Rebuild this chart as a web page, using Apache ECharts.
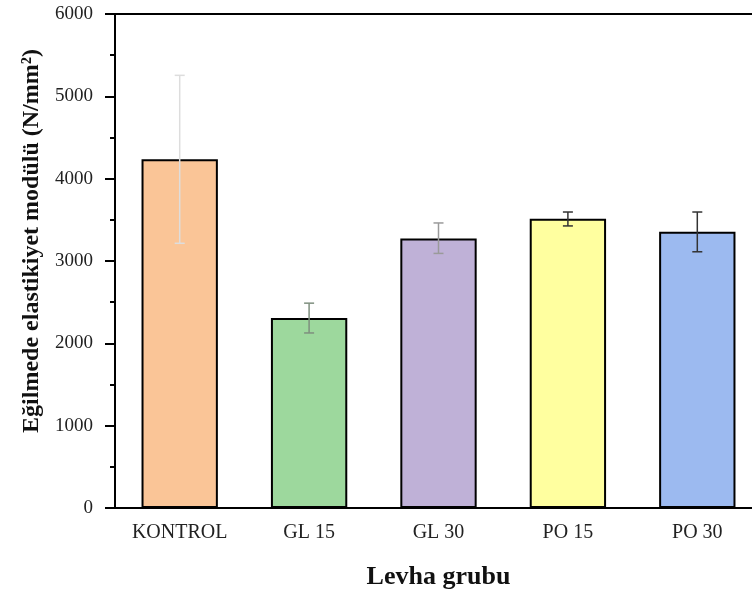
<!DOCTYPE html>
<html>
<head>
<meta charset="utf-8">
<script src="https://cdn.jsdelivr.net/npm/echarts@6/dist/echarts.min.js"></script>
<style>
  html, body { margin: 0; padding: 0; background: #fff; overflow: hidden; }
  #mycharts { width: 764px; height: 595px; }
</style>
</head>
<body>
<div id="mycharts"></div>
<script>
// veriler
var categories = ["KONTROL", "GL 15", "GL 30", "PO 15", "PO 30"];
var modulus = [4235, 2307, 3273, 3514, 3354];
var errLow = [3215, 2126, 3092, 3426, 3112];
var errHigh = [5255, 2488, 3462, 3595, 3595];
var barColors = ["#FAC597", "#9DD89D", "#BFB1D7", "#FFFF9F", "#9CBAF0"];
var errColors = ["#DDDDDD", "#7F8F7F", "#9A9A9A", "#333333", "#333333"];
var yTicks = [0, 1000, 2000, 3000, 4000, 5000, 6000];

var font = "Liberation Serif, Times New Roman, serif";
var myCharts = echarts.init(document.getElementById("mycharts"));

var errData = categories.map(function (c, i) {
  return [i, errLow[i], errHigh[i]];
});

var option = {
  animation: false,
  grid: {
    left: 115,
    top: 14,
    bottom: 84,
    right: 2,
    show: true,
    borderColor: "#000",
    borderWidth: 2
  },
  xAxis: [
    {
      type: "category",
      data: categories,
      name: "Levha grubu",
      nameLocation: "middle",
      nameGap: 56,
      nameTextStyle: { fontFamily: font, fontWeight: "bold", fontSize: 26, color: "#111" },
      axisLine: { lineStyle: { color: "#000", width: 2 } },
      axisTick: { alignWithLabel: true, length: 6, lineStyle: { color: "#000", width: 2 } },
      axisLabel: { fontFamily: font, fontSize: 20, color: "#222", margin: 15 }
    },
    {
      type: "category",
      data: categories,
      position: "bottom",
      axisLine: { show: false },
      axisTick: { length: 4, lineStyle: { color: "#000", width: 2 } },
      axisLabel: { show: false }
    }
  ],
  yAxis: {
    type: "value",
    min: 0,
    max: yTicks[yTicks.length - 1],
    interval: 1000,
    name: "Eğilmede elastikiyet modülü (N/mm²)",
    nameLocation: "middle",
    nameGap: 68,
    nameTextStyle: {
      fontFamily: font, fontWeight: "bold", fontSize: 24, color: "#111",
      padding: [0, 0, 0, 40]
    },
    splitLine: { show: false },
    axisLine: { show: true, lineStyle: { color: "#000", width: 2 } },
    axisTick: { show: true, length: 10, lineStyle: { color: "#000", width: 2 } },
    minorTick: { show: true, splitNumber: 2, length: 5, lineStyle: { color: "#000", width: 2 } },
    axisLabel: {
      fontFamily: font, fontSize: 19, color: "#222", margin: 22,
      formatter: function (v) { return String(v); }
    }
  },
  series: [
    {
      name: "modul",
      type: "bar",
      barWidth: "59%",
      data: modulus.map(function (v, i) {
        return { value: v, itemStyle: { color: barColors[i] } };
      }),
      itemStyle: { borderColor: "#000", borderWidth: 2 },
      z: 2
    },
    {
      name: "hata",
      type: "custom",
      data: errData,
      z: 3,
      renderItem: function (params, api) {
        var i = api.value(0);
        var lo = api.coord([i, api.value(1)]);
        var hi = api.coord([i, api.value(2)]);
        var w = 5;
        var st = { stroke: errColors[params.dataIndex], lineWidth: 1.5 };
        return {
          type: "group",
          children: [
            { type: "line", shape: { x1: hi[0], y1: hi[1], x2: lo[0], y2: lo[1] }, style: st },
            { type: "line", shape: { x1: hi[0] - w, y1: hi[1], x2: hi[0] + w, y2: hi[1] }, style: st },
            { type: "line", shape: { x1: lo[0] - w, y1: lo[1], x2: lo[0] + w, y2: lo[1] }, style: st }
          ]
        };
      }
    }
  ]
};

myCharts.setOption(option);
</script>
</body>
</html>
